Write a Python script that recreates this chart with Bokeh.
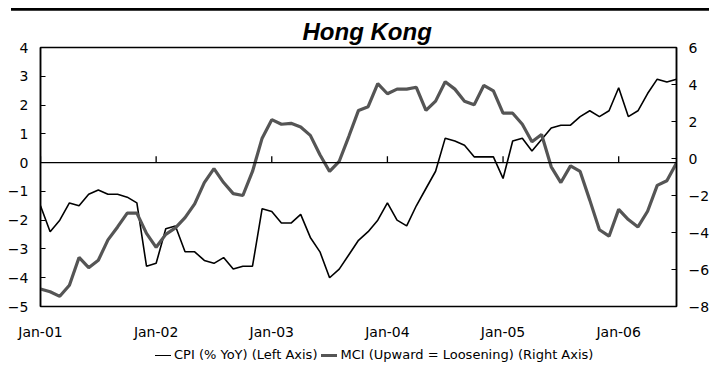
from bokeh.plotting import figure
from bokeh.layouts import column
from bokeh.models import Range1d, LinearAxis, FixedTicker, Span, ColumnDataSource, Div
from bokeh.embed import file_html
from bokeh.resources import INLINE

# Monthly observations, Jan-2001 .. Jul-2006
months = [f"{y}-{m:02d}" for y in range(2001, 2007) for m in range(1, 13)][:67]

cpi = [-1.5, -2.4, -2.0, -1.4, -1.5, -1.1, -0.95, -1.1, -1.1, -1.2, -1.4, -3.6,
       -3.5, -2.3, -2.2, -3.1, -3.1, -3.4, -3.5, -3.3, -3.7, -3.6, -3.6, -1.6,
       -1.7, -2.1, -2.1, -1.8, -2.6, -3.1, -4.0, -3.7, -3.2, -2.7, -2.4, -2.0,
       -1.4, -2.0, -2.2, -1.5, -0.9, -0.3, 0.85, 0.75, 0.6, 0.2, 0.2, 0.2,
       -0.55, 0.75, 0.85, 0.4, 0.8, 1.2, 1.3, 1.3, 1.6, 1.8, 1.6, 1.8,
       2.6, 1.6, 1.8, 2.4, 2.9, 2.8, 2.9]

mci = [-7.05, -7.2, -7.45, -6.85, -5.35, -5.9, -5.5, -4.4, -3.7, -2.95, -2.95, -4.05,
       -4.8, -4.1, -3.75, -3.2, -2.45, -1.3, -0.55, -1.3, -1.9, -2.0, -0.7, 1.1,
       2.1, 1.85, 1.9, 1.7, 1.25, 0.2, -0.7, -0.15, 1.2, 2.6, 2.8, 4.05,
       3.5, 3.75, 3.75, 3.85, 2.6, 3.1, 4.15, 3.75, 3.1, 2.9, 3.95, 3.65,
       2.45, 2.45, 1.85, 0.9, 1.3, -0.45, -1.3, -0.4, -0.7, -2.25, -3.85, -4.2,
       -2.75, -3.3, -3.7, -2.85, -1.45, -1.2, -0.25]

tick_labels = ["Jan-01", "Jan-02", "Jan-03", "Jan-04", "Jan-05", "Jan-06"]
left_ticks = list(range(-5, 5))
right_ticks = list(range(-8, 7, 2))

series_labels = ["CPI (% YoY) (Left Axis)", "MCI (Upward = Loosening) (Right Axis)"]

x = list(range(len(months)))
tick_pos = [months.index(f"20{lab[-2:]}-01") for lab in tick_labels]

src = ColumnDataSource(dict(x=x, cpi=cpi, mci=mci, month=months))

TICK_FONT = "DejaVu Sans"
CPI_COLOR, CPI_WIDTH = "black", 1.6
MCI_COLOR, MCI_WIDTH = "#555555", 3.2

# heavy page rule above the chart
rule = Div(text='<div style="margin:6px 0 0 11px;width:698px;height:0;'
                'border-top:4px solid #000"></div>',
           width=712, height=10, margin=0)

p = figure(width=712, height=332, output_backend="svg", toolbar_location=None,
           x_range=Range1d(0, len(months) - 1), y_range=Range1d(-5, 4),
           min_border_left=40, min_border_right=32, min_border_top=37,
           min_border_bottom=34, background_fill_color="white",
           border_fill_color="white", margin=0)
p.extra_y_ranges = {"mci": Range1d(-8, 6)}
p.grid.visible = False
p.outline_line_color = "black"
p.outline_line_width = 1.5

# title
p.title.text = "Hong Kong"
p.title.align = "left"
p.title.offset = 262
p.title.text_font = "Liberation Sans"
p.title.text_font_style = "bold italic"
p.title.text_font_size = "24px"
p.title.text_color = "black"
p.title.standoff = 6

# left axis (CPI)
ya = p.yaxis[0]
ya.ticker = FixedTicker(ticks=left_ticks)
ya.major_tick_in = 5
ya.major_tick_out = 0
ya.minor_tick_line_color = None
ya.axis_line_width = 1.5
ya.major_tick_line_width = 1.2
ya.major_label_standoff = 12
ya.major_label_text_font = TICK_FONT
ya.major_label_text_font_size = "14px"
ya.major_label_text_color = "black"

# right axis (MCI)
ra = LinearAxis(y_range_name="mci", ticker=FixedTicker(ticks=right_ticks))
ra.major_tick_in = 5
ra.major_tick_out = 0
ra.minor_tick_line_color = None
ra.axis_line_width = 1.5
ra.major_tick_line_width = 1.2
ra.major_label_standoff = 12
ra.major_label_text_font = TICK_FONT
ra.major_label_text_font_size = "14px"
ra.major_label_text_color = "black"
p.add_layout(ra, "right")

# date axis, labels along the bottom
xa = p.xaxis[0]
xa.ticker = FixedTicker(ticks=tick_pos)
xa.major_label_overrides = {pos: lab for pos, lab in zip(tick_pos, tick_labels)}
xa.major_tick_in = 0
xa.major_tick_out = 0
xa.minor_tick_line_color = None
xa.axis_line_color = None
xa.major_label_standoff = 17
xa.major_label_text_font = TICK_FONT
xa.major_label_text_font_size = "14px"
xa.major_label_text_color = "black"

# zero line with its year ticks
p.add_layout(Span(location=0, dimension="width", line_color="black", line_width=1.3))
p.segment(x0=tick_pos, y0=[0] * len(tick_pos), x1=tick_pos, y1=[0.22] * len(tick_pos),
          line_color="black", line_width=1.3)

p.line("x", "cpi", source=src, line_color=CPI_COLOR, line_width=CPI_WIDTH)
p.line("x", "mci", source=src, y_range_name="mci", line_color=MCI_COLOR,
       line_width=MCI_WIDTH)

# key under the chart
def swatch(color, width, gap):
    return (f'<span style="display:inline-block;width:16px;height:0;'
            f'border-top:{width}px solid {color};margin:0 3px 0 {gap}px"></span>')

key_html = ('<div style="display:flex;align-items:center;box-sizing:border-box;'
            'height:23px;padding:3px 0 0 155px;white-space:nowrap;'
            "font-family:'DejaVu Sans';font-size:13px;color:#000\">"
            + swatch(CPI_COLOR, CPI_WIDTH, 0) + f"<span>{series_labels[0]}</span>"
            + swatch(MCI_COLOR, MCI_WIDTH, 4) + f"<span>{series_labels[1]}</span>"
            + "</div>")
key = Div(text=key_html, width=712, height=23, margin=0)

page = column(rule, p, key, spacing=0)

open("out.html", "w").write(file_html(page, INLINE))
